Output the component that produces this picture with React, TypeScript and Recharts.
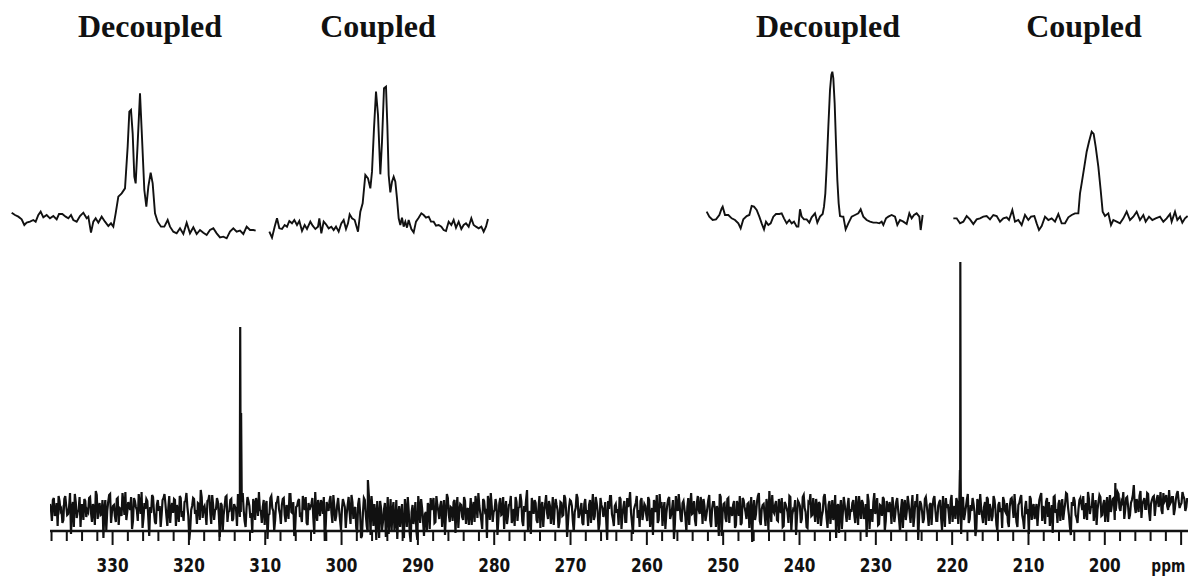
import React from 'react';
import { LineChart, Line, XAxis, YAxis, ReferenceLine } from 'recharts';

// ---------- main spectrum ----------
const noiseStartPpm = 338.2;
const noiseStepPpm = 0.25;
// baseline noise sampled on the grid points
const baselineNoise = [
  14,-3,20,5,-8,17,9,-2,22,3,11,-16,16,24,0,8,-9,13,19,1,
  6,21,-4,10,27,-1,15,4,-20,18,7,23,-5,12,2,19,-7,9,25,3,
  -2,16,8,-11,20,11,-3,14,26,0,9,17,-18,5,21,-4,13,7,-9,18,
  24,2,10,-5,15,19,-8,6,22,1,-3,17,11,-22,8,20,4,-6,14,28,
  0,12,-7,18,5,23,-2,9,16,-19,13,3,21,-4,7,19,-1,11,-8,15,
  6,25,-3,10,17,0,-15,14,20,2,8,-5,18,12,-21,4,22,7,-2,16,
  9,-6,19,3,13,-1,24,5,-18,11,17,1,-4,15,21,-7,8,14,0,26,
  -3,10,18,4,-23,16,7,22,-5,12,2,20,-2,9,15,-10,13,6,23,-1,
  11,-15,20,-20,5,18,-8,26,-17,9,14,-22,3,17,-12,8,-19,21,0,-14,
  16,-6,-21,12,4,-16,19,-9,7,-24,13,2,-13,22,-5,10,-18,6,15,-11,
  8,20,-4,13,-1,17,6,-17,24,3,11,-3,18,9,-10,14,1,21,-6,10,
  5,-7,16,22,0,12,-2,19,7,-20,15,25,-4,8,13,-1,20,4,-11,17,
  2,14,-5,9,21,-3,11,17,-8,6,28,1,-16,13,18,-2,10,-10,16,7,
  23,-1,12,5,-7,19,8,-4,15,3,20,-19,11,17,-3,6,24,0,9,-5,
  14,4,-8,18,10,-2,21,7,-6,13,1,16,-22,9,22,-1,12,5,-7,19,
  3,17,-4,11,26,-5,8,15,0,-9,20,6,12,-3,18,2,-17,14,23,-2,
  10,-8,16,4,19,-1,9,-21,22,7,13,-4,17,1,11,-7,25,5,-2,15,
  8,21,-6,12,3,18,-3,10,16,-9,6,24,-18,14,0,19,-5,9,13,-10,
  17,2,-7,20,11,-1,15,6,-24,18,4,22,-3,9,14,-8,12,27,-4,7,
  13,-2,19,5,-9,16,10,-5,21,3,8,-17,17,12,-1,23,6,-10,15,2,
  20,-4,11,16,-8,7,24,0,13,-6,18,4,-20,14,9,-11,21,5,12,-2,
  6,18,-5,10,22,-1,15,3,-19,17,8,-4,25,11,-7,13,2,19,-3,9,
  16,-6,12,4,20,-2,9,-10,18,6,14,-5,23,1,11,-22,17,7,-1,21,
  3,13,-7,19,8,-3,16,0,22,-9,10,5,17,-4,12,20,-6,8,15,-2,
  11,24,-1,7,14,-18,19,3,10,-5,16,21,-3,9,2,18,-7,13,6,-10,
  17,5,-4,12,20,0,8,-9,15,23,-2,10,4,-16,19,11,-1,14,7,22,
  -3,9,16,1,-8,13,21,5,-5,18,10,-2,14,24,3,-17,12,17,0,9,
  20,8,-1,15,26,4,11,-3,18,9,23,2,14,-4,21,12,6,19,-2,16,
  24,7,15,-1,20,12,3,18,33,5,13,22,0,17,9,25,6,14,21,2,
  19,11,26,4,16,23,8,14,21,3,18,27,10,15,22,7,20,
];
// baseline noise sampled half-way between grid points
const baselineNoiseMid = [
  9,18,2,15,22,7,-5,19,12,4,25,10,-9,16,6,21,13,-2,17,8,
  20,5,14,-7,23,11,3,18,9,-12,16,24,7,13,-4,20,10,2,15,26,
  6,12,21,-3,17,8,24,4,-10,15,19,1,11,23,6,-6,18,12,3,20,
  14,-8,22,9,5,18,13,-4,20,7,16,25,2,-11,12,19,8,15,-2,21,
  10,4,17,23,-6,13,8,20,2,15,-14,11,22,6,18,-3,14,9,24,1,
  16,8,-9,21,12,5,19,-2,14,26,7,11,-7,17,3,20,10,-13,15,22,
  4,13,20,-4,9,24,6,16,-10,12,19,3,22,8,-5,15,11,20,-16,7,
  18,2,14,21,-8,10,17,5,23,-3,13,8,-12,19,11,4,21,-6,16,9,
  -10,14,6,-18,20,3,-14,12,22,-8,5,17,-20,10,-4,15,2,-16,19,7,
  -12,18,3,-9,14,-20,8,21,-15,6,-6,16,-22,11,19,-3,4,-14,12,20,
  15,-5,22,7,12,-9,18,3,20,-4,10,16,-15,21,6,13,-2,17,8,-7,
  20,10,-4,14,25,5,-11,17,9,22,-2,12,6,19,-17,15,3,21,8,-6,
  13,22,1,-8,16,10,24,-3,12,18,-13,7,20,4,15,-5,22,11,-9,14,
  5,17,-6,21,9,13,-10,16,2,23,7,-4,18,12,-14,10,20,3,15,-7,
  19,8,13,-5,24,2,15,-12,20,10,6,-3,17,22,4,-8,14,9,21,-11,
  11,-4,20,15,5,-16,12,22,8,17,-2,14,3,21,-9,10,18,6,-5,24,
  16,7,-11,13,21,3,18,-6,11,24,-1,15,9,-14,20,12,4,17,-8,22,
  4,14,19,-3,10,23,-9,16,7,12,-18,21,5,15,-4,20,11,2,17,-7,
  12,22,-5,18,6,14,-10,21,9,-2,16,25,-7,13,4,19,-12,10,23,5,
  17,-3,11,20,-8,14,6,22,-13,9,18,2,15,-5,21,10,-9,16,24,3,
  8,19,-6,14,2,21,12,-10,17,7,-2,23,11,-15,18,5,13,-4,20,9,
  15,3,22,-7,11,18,-1,14,24,-11,8,16,4,20,-6,12,21,-13,17,6,
  10,21,-4,16,8,-14,19,13,-2,22,5,11,-9,17,24,2,14,-5,19,12,
  -8,15,10,22,-3,12,18,-12,7,20,14,-6,23,9,-1,16,11,-16,21,4,
  18,-5,13,20,6,-10,15,24,2,11,-7,19,14,-3,22,8,-13,16,10,21,
  7,15,-9,19,11,24,-4,13,20,3,-11,17,9,22,-2,14,6,-8,18,25,
  12,-6,20,16,4,-15,22,9,14,-3,19,7,25,11,-9,16,21,3,-5,18,
  14,22,6,-2,19,11,25,8,-7,16,21,3,18,10,-4,23,13,20,7,26,
  10,17,26,8,21,-1,15,23,12,19,6,27,14,20,9,24,-3,18,22,13,
  23,15,8,25,18,12,28,16,21,9,24,17,13,26,19,11,
];
const signalPpm = [313.32, 313.28, 313.22, 313.16, 296.55, 218.98, 218.93, 218.88, 198.62];
const signalIntensity = [55, 191, 40, 105, 38, 48, 256, 40, 35];

const labelTicks = [330, 320, 310, 300, 290, 280, 270, 260, 250, 240, 230, 220, 210, 200, 190];
const minorTickStep = 2;
const axisLevel = -13;
const minorTickEnd = -23;
const majorTickEnd = -27;

const mainData = [
  ...baselineNoise.map((v, i) => ({ ppm: +(noiseStartPpm - i * noiseStepPpm).toFixed(3), v })),
  ...baselineNoiseMid.map((v, i) => ({ ppm: +(noiseStartPpm - (i + 0.5) * noiseStepPpm).toFixed(3), v })),
  ...signalPpm.map((p, i) => ({ ppm: p, v: signalIntensity[i] })),
].sort((a, b) => b.ppm - a.ppm);

const tickPositions: number[] = [];
for (let p = 338; p >= 190; p -= minorTickStep) tickPositions.push(p);

// ---------- insets ----------
const inset1Offset = [20,30,40,50,58,65,75,85,92,100,107,115,125,135,145,155,162,172,182,190,198,205,215,225,235,245,250,258,265,272,280,290,300,310,318,325,332,340,350,360,368,373,378,383,388,392,398,405,410,418,424,430,437,443,450,458,468,478,488,495,505,515,525,535,545,555,565,575,585,595,605,615,625,635,645,655,665,675,685,695,705,715,725,735,745,752];
const inset1Intensity = [82,75,70,62,45,52,55,60,55,75,85,68,75,65,72,62,78,78,70,65,75,60,55,72,82,65,70,22,55,65,52,70,55,42,50,40,80,130,140,155,280,385,390,320,190,170,290,440,330,150,100,160,202,170,80,55,40,40,60,40,25,20,35,18,52,20,38,18,30,22,15,30,35,20,8,10,5,25,35,25,28,18,40,30,30,28];

const inset2Offset = [22,30,38,45,52,60,68,75,82,90,97,105,112,120,128,135,145,152,160,168,172,178,185,192,200,208,215,222,230,238,245,252,258,263,270,278,288,295,302,310,318,325,330,336,342,348,355,360,366,372,376,380,385,390,395,400,405,410,415,420,425,430,435,440,448,455,462,470,478,485,492,500,507,515,522,530,538,545,552,560,568,575,582,590,598,605,612,620,628,635,642,650,658,665,672,678];
const inset2Intensity = [25,7,40,65,35,33,45,40,57,50,60,45,57,27,45,33,55,43,33,40,65,20,55,47,35,40,30,40,25,50,60,33,50,77,65,60,25,85,110,195,185,155,205,335,445,375,197,295,455,460,345,195,143,175,190,175,125,65,45,67,40,55,37,60,33,23,55,67,80,75,67,70,55,55,43,45,40,30,27,55,45,60,37,55,33,45,50,40,65,45,40,35,40,25,40,63];

const inset3Offset = [20,28,38,48,58,65,68,75,85,95,105,115,122,130,140,148,155,162,170,178,185,192,198,205,212,220,228,238,245,252,260,268,275,282,290,295,300,305,312,320,328,335,345,352,360,368,372,376,380,385,390,394,397,400,404,408,412,416,420,425,430,437,445,455,465,475,482,490,500,510,520,530,538,545,550,558,565,575,585,592,600,610,620,628,635,642,650,658,662,668];
const inset3Intensity = [85,70,60,62,75,95,100,75,75,65,60,50,35,62,72,75,102,100,90,70,50,32,55,45,50,70,78,78,80,65,50,60,50,55,40,40,92,70,62,62,52,68,80,52,70,78,100,140,220,340,450,495,505,485,410,290,180,110,72,70,70,32,50,70,75,80,92,70,60,55,52,52,50,55,45,65,70,75,70,45,60,55,48,80,65,75,80,70,30,75];

const inset4Offset = [25,35,45,55,65,75,85,95,105,115,125,135,145,155,165,175,185,192,202,210,220,230,240,250,258,268,275,282,290,300,310,320,330,340,350,360,370,380,390,400,405,410,418,425,432,440,446,452,460,467,473,480,490,498,505,515,525,535,545,555,565,575,585,595,602,612,622,632,645,655,665,675,680,690,697,705,712,720,728];
const inset4Intensity = [65,65,50,55,72,62,48,62,65,70,72,62,75,72,55,65,68,60,90,55,60,45,75,60,70,72,50,30,42,70,60,65,55,78,50,50,68,75,80,80,140,170,220,265,295,325,318,280,220,150,85,72,80,45,60,55,50,65,85,60,70,85,60,75,55,70,60,65,70,55,65,78,55,85,60,70,52,65,72];

const insetTitles = ['Decoupled', 'Coupled', 'Decoupled', 'Coupled'];

const INK = '#111';
const labelFont = '"Liberation Sans Narrow", "DejaVu Sans Condensed", "Arial Narrow", sans-serif';

const TickLabel = (props: any) => {
  const { x, y, payload } = props;
  const isUnit = payload.value === 190;
  return (
    <text
      x={x}
      y={y}
      dy={16}
      dx={isUnit ? 5 : 0}
      textAnchor={isUnit ? 'end' : 'middle'}
      fontFamily={labelFont}
      fontSize={isUnit ? 18 : 20}
      fontWeight={600}
      fill={INK}
      transform={`translate(${x} 0) scale(0.85 1) translate(${-x} 0)`}
    >
      {isUnit ? 'ppm' : String(payload.value)}
    </text>
  );
};

type InsetProps = {
  offsets: number[];
  intensities: number[];
  left: number;
  top: number;
  width: number;
  height: number;
  xMax: number;
  yMax: number;
};

const Inset = ({ offsets, intensities, left, top, width, height, xMax, yMax }: InsetProps) => {
  const data = offsets.map((o, i) => ({ o, v: intensities[i] }));
  return (
    <div style={{ position: 'absolute', left, top, width, height }}>
      <LineChart width={width} height={height} data={data} margin={{ top: 0, right: 0, bottom: 0, left: 0 }}>
        <XAxis type="number" dataKey="o" domain={[0, xMax]} hide />
        <YAxis type="number" domain={[0, yMax]} hide />
        <Line type="linear" dataKey="v" stroke={INK} strokeWidth={1.9} dot={false} isAnimationActive={false} />
      </LineChart>
    </div>
  );
};

const titleStyle = (cx: number): React.CSSProperties => ({
  position: 'absolute',
  left: cx - 100,
  top: 8,
  width: 200,
  textAlign: 'center',
  fontFamily: '"Liberation Serif", "Times New Roman", serif',
  fontWeight: 'bold',
  fontSize: 32,
  lineHeight: '36px',
  color: INK,
});

const titleCenters = [150, 378, 828, 1084];

export default function App() {
  return (
    <div style={{ position: 'absolute', left: 0, top: 0, width: 1188, height: 577, background: '#fff', overflow: 'hidden' }}>
      <div style={{ position: 'absolute', left: 0, top: 0 }}>
        <LineChart width={1188} height={577} data={mainData} margin={{ top: 250, right: 0, bottom: 0, left: 50 }}>
          <XAxis
            type="number"
            dataKey="ppm"
            domain={[189.1, 338.2]}
            reversed
            allowDataOverflow
            ticks={labelTicks}
            axisLine={false}
            tickLine={false}
            height={29}
            tick={<TickLabel />}
            interval={0}
          />
          <YAxis type="number" domain={[-30, 268]} hide allowDataOverflow />
          <ReferenceLine y={axisLevel} stroke={INK} strokeWidth={2.5} />
          {tickPositions.map((p) => (
            <ReferenceLine
              key={p}
              segment={[
                { x: p, y: axisLevel },
                { x: p, y: p % 10 === 0 ? majorTickEnd : minorTickEnd },
              ]}
              stroke={INK}
              strokeWidth={2}
            />
          ))}
          <Line type="linear" dataKey="v" stroke={INK} strokeWidth={2.2} dot={false} isAnimationActive={false} />
        </LineChart>
      </div>

      <Inset offsets={inset1Offset} intensities={inset1Intensity} left={5} top={80} width={255} height={160} xMax={765} yMax={480} />
      <Inset offsets={inset2Offset} intensities={inset2Intensity} left={262} top={75} width={230} height={165} xMax={690} yMax={495} />
      <Inset offsets={inset3Offset} intensities={inset3Intensity} left={700} top={60} width={230} height={180} xMax={690} yMax={540} />
      <Inset offsets={inset4Offset} intensities={inset4Intensity} left={945} top={110} width={243} height={130} xMax={729} yMax={390} />

      {insetTitles.map((t, i) => (
        <div key={i} style={titleStyle(titleCenters[i])}>{t}</div>
      ))}
    </div>
  );
}
